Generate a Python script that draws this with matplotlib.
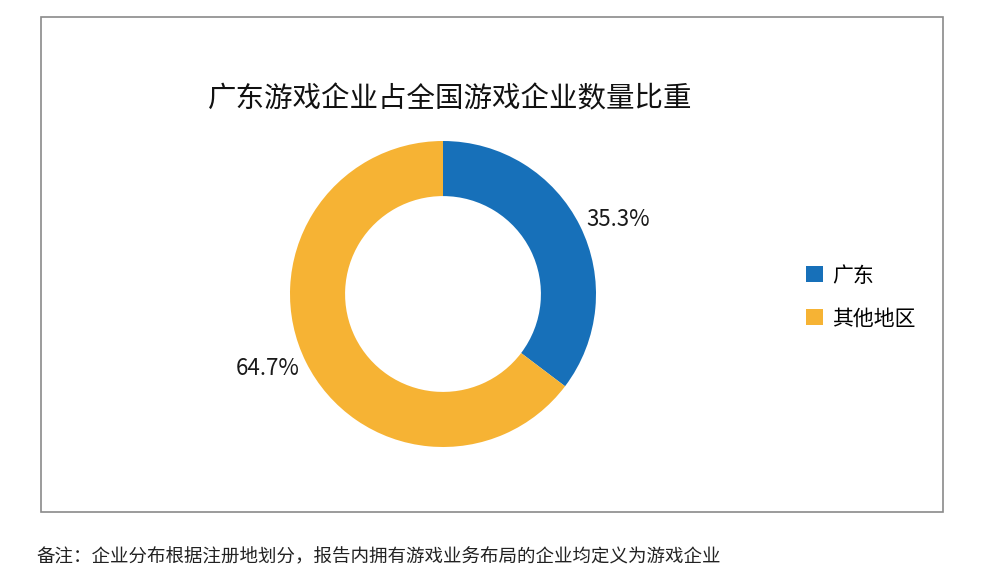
import matplotlib
matplotlib.use("Agg")
import matplotlib.pyplot as plt
import numpy as np
from matplotlib.patches import Rectangle

plt.rcParams['font.family'] = ['Noto Sans CJK SC', 'DejaVu Sans']

# ---- data ----
categories = ['广东', '其他地区']
values = [35.3, 64.7]
colors = ['#1770B9', '#F6B334']
title = '广东游戏企业占全国游戏企业数量比重'
note = '备注：企业分布根据注册地划分，报告内拥有游戏业务布局的企业均定义为游戏企业'

W, H = 984, 585
fig = plt.figure(figsize=(W / 100, H / 100), dpi=100)

# outer frame
fig.patches.append(Rectangle((41 / W, 1 - 512 / H), (943 - 41) / W, (512 - 17) / H,
                             transform=fig.transFigure, fill=False,
                             edgecolor='#8a8a8a', linewidth=1.2))

# donut axes
cx, cy, R = 443, 294, 153
ax = fig.add_axes([(cx - R) / W, (H - cy - R) / H, 2 * R / W, 2 * R / H])
wedges, _ = ax.pie(values, colors=colors, startangle=90, counterclock=False,
                   radius=1.0, wedgeprops=dict(width=0.36, linewidth=0))
ax.set_xlim(-1, 1)
ax.set_ylim(-1, 1)
ax.set_aspect('equal')
ax.axis('off')

for w, v in zip(wedges, values):
    th = np.deg2rad((w.theta1 + w.theta2) / 2 - 3.3)
    r = 1.245
    ax.text(r * np.cos(th), r * np.sin(th), f'{v:.1f}%', ha='center', va='center',
            fontsize=16, color='#1a1a1a', clip_on=False)

fig.text(450 / W, 1 - 99 / H, title, ha='center', va='center', fontsize=20.5, color='#111111')

fig.legend(wedges, categories, loc='center left', bbox_to_anchor=(806 / W, 1 - 297 / H),
           frameon=False, fontsize=15, handlelength=0.8, handleheight=0.8,
           handletextpad=0.45, labelspacing=1.0, borderpad=0, borderaxespad=0)

fig.text(36 / W, 1 - 557 / H, note, ha='left', va='center', fontsize=13.3,
         style='italic', color='#222222')

fig.savefig('out.png', dpi=100)
